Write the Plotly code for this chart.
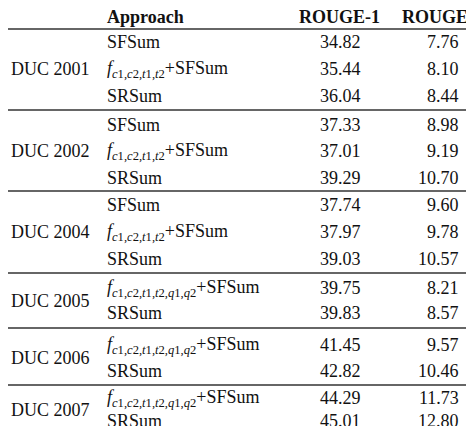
import plotly.graph_objects as go

datasets = ["DUC 2001", "DUC 2002", "DUC 2004", "DUC 2005", "DUC 2006", "DUC 2007"]
group_approaches = [
    ["SFSum", "f4+SFSum", "SRSum"],
    ["SFSum", "f4+SFSum", "SRSum"],
    ["SFSum", "f4+SFSum", "SRSum"],
    ["f6+SFSum", "SRSum"],
    ["f6+SFSum", "SRSum"],
    ["f6+SFSum", "SRSum"],
]
rouge1 = ["34.82", "35.44", "36.04", "37.33", "37.01", "39.29", "37.74", "37.97", "39.03",
          "39.75", "39.83", "41.45", "42.82", "44.29", "45.01"]
rouge2 = ["7.76", "8.10", "8.44", "8.98", "9.19", "10.70", "9.60", "9.78", "10.57",
          "8.21", "8.57", "9.57", "10.46", "11.73", "12.80"]
headers = ["Approach", "ROUGE-1", "ROUGE-2"]

# layout positions (pixels)
row_y = [34, 61, 88, 117, 143, 170, 197, 224, 251, 280, 305, 337, 363, 390, 413]
sep_y = [21, 102, 183, 265, 320, 377]
header_y = 9

F4 = "<i>f</i><sub><i>c</i>1,<i>c</i>2,<i>t</i>1,<i>t</i>2</sub>+SFSum"
F6 = "<i>f</i><sub><i>c</i>1,<i>c</i>2,<i>t</i>1,<i>t</i>2,<i>q</i>1,<i>q</i>2</sub>+SFSum"
def fmt(a):
    return {"f4+SFSum": F4, "f6+SFSum": F6}.get(a, a)

font = dict(family="Liberation Serif", size=18, color="#111")
ann = []
ann.append(dict(x=97, y=header_y, text="<b>Approach</b>", xanchor="left"))
ann.append(dict(x=331, y=header_y, text="<b>ROUGE-1</b>", xanchor="center"))
ann.append(dict(x=392, y=header_y, text="<b>ROUGE-2</b>", xanchor="left"))
i = 0
for g, (ds, apps) in enumerate(zip(datasets, group_approaches)):
    ys = row_y[i:i + len(apps)]
    ann.append(dict(x=1, y=sum(ys) / len(ys), text=ds, xanchor="left"))
    for a in apps:
        ann.append(dict(x=97, y=row_y[i], text=fmt(a), xanchor="left"))
        ann.append(dict(x=332, y=row_y[i], text=rouge1[i], xanchor="center"))
        ann.append(dict(x=453, y=row_y[i], text=rouge2[i], xanchor="right"))
        i += 1
for a in ann:
    a.update(xref="x", yref="y", showarrow=False, yanchor="middle", font=font)

shapes = [dict(type="line", xref="x", yref="y", x0=0, x1=474, y0=y, y1=y,
               line=dict(color="#333", width=1.6)) for y in sep_y]

fig = go.Figure()
fig.update_layout(width=474, height=426, margin=dict(l=0, r=0, t=0, b=0),
                  paper_bgcolor="white", plot_bgcolor="white",
                  xaxis=dict(range=[0, 474], visible=False, fixedrange=True),
                  yaxis=dict(range=[426, 0], visible=False, fixedrange=True),
                  annotations=ann, shapes=shapes, showlegend=False)
fig.write_html("out.html", config={"displayModeBar": False})
